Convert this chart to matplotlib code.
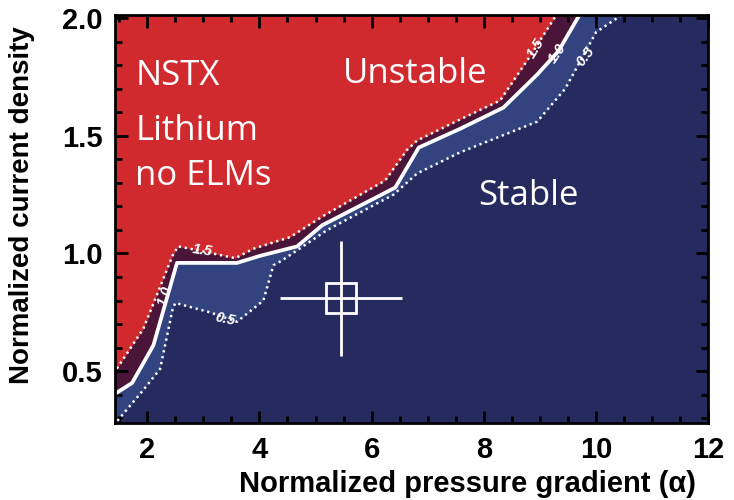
import numpy as np
import matplotlib
matplotlib.use('Agg')
import matplotlib.pyplot as plt
from matplotlib.ticker import MultipleLocator

# Stability boundaries (contours of growth rate) in the alpha - j plane
alpha_15 = [1.40, 1.93, 2.45, 2.55, 2.77, 3.57, 3.89, 4.55, 5.14, 6.24, 6.63, 6.81, 7.58, 8.29, 8.80, 9.31]
j_15 = [0.49, 0.68, 0.99, 1.03, 1.02, 0.98, 1.02, 1.07, 1.16, 1.31, 1.44, 1.48, 1.57, 1.65, 1.83, 2.02]

alpha_10 = [1.40, 1.73, 2.11, 2.53, 3.60, 4.01, 4.67, 5.12, 6.42, 6.84, 7.58, 8.35, 8.95, 9.33, 9.72]
j_10 = [0.40, 0.45, 0.61, 0.96, 0.96, 0.99, 1.03, 1.12, 1.28, 1.45, 1.53, 1.62, 1.76, 1.86, 2.02]

alpha_05 = [1.40, 1.93, 2.23, 2.45, 2.50, 3.12, 3.60, 4.07, 4.25, 4.40, 5.21, 6.39, 6.81, 7.58, 8.95, 9.45, 10.0, 10.5]
j_05 = [0.27, 0.42, 0.51, 0.76, 0.79, 0.75, 0.71, 0.80, 0.95, 0.97, 1.10, 1.25, 1.34, 1.43, 1.56, 1.70, 1.94, 2.02]

# Contour labels: (text, alpha, j, rotation)
contour_labels = [
    ('1.5', 2.98, 1.013, -8),
    ('1.0', 2.32, 0.818, 72),
    ('0.5', 3.39, 0.720, -12),
    ('1.5', 8.92, 1.873, 58),
    ('1.0', 9.31, 1.850, 55),
    ('0.5', 9.81, 1.835, 52),
]

# Experimental operating point with uncertainty
exp_alpha, exp_alpha_err = 5.45, 1.09
exp_j, exp_j_err = 0.81, 0.245

RED = '#d02a2f'
PURPLE = '#4a1538'
BLUE = '#32437f'
NAVY = '#252a5f'

label_font = ['Liberation Sans Narrow', 'Liberation Sans', 'DejaVu Sans']
text_font = ['Open Sans', 'DejaVu Sans']

fig = plt.figure(figsize=(7.34, 5.0), dpi=100)
ax = fig.add_axes([0.157, 0.154, 0.808, 0.816])
ax.set_facecolor(NAVY)

ytop = 2.2
ax.fill_between(alpha_05, j_05, ytop, color=BLUE, lw=0)
ax.fill_between(alpha_10, j_10, ytop, color=PURPLE, lw=0)
ax.fill_between(alpha_15, j_15, ytop, color=RED, lw=0)

dots = (0, (0.9, 1.5))
ax.plot(alpha_15, j_15, color='white', lw=1.8, ls=dots, solid_capstyle='butt')
ax.plot(alpha_10, j_10, color='white', lw=2.7)
ax.plot(alpha_05, j_05, color='white', lw=1.8, ls=dots, solid_capstyle='butt')

for txt, a, j, rot in contour_labels:
    ax.text(a, j, txt, color='white', fontsize=10.5, fontweight='bold', style='italic',
            rotation=rot, ha='center', va='center', family=['Liberation Sans', 'DejaVu Sans'])

ax.errorbar(exp_alpha, exp_j, xerr=exp_alpha_err, yerr=exp_j_err, fmt='s',
            mfc='none', mec='white', mew=2.0, ms=21, color='white', elinewidth=2.0,
            capsize=0)

# Region annotations
ax.text(1.79, 1.716, 'NSTX', color='white', fontsize=25, family=text_font, va='baseline')
ax.text(1.79, 1.483, 'Lithium', color='white', fontsize=25, family=text_font, va='baseline')
ax.text(1.79, 1.292, 'no ELMs', color='white', fontsize=25, family=text_font, va='baseline')
ax.text(5.49, 1.725, 'Unstable', color='white', fontsize=25, family=text_font, va='baseline')
ax.text(7.90, 1.208, 'Stable', color='white', fontsize=25, family=text_font, va='baseline')

ax.set_xlim(1.43, 12)
ax.set_ylim(0.28, 2.013)

ax.xaxis.set_major_locator(MultipleLocator(2))
ax.xaxis.set_minor_locator(MultipleLocator(0.5))
ax.yaxis.set_major_locator(MultipleLocator(0.5))
ax.yaxis.set_minor_locator(MultipleLocator(0.1))
ax.tick_params(which='both', direction='in', top=True, right=True, width=2, color='black')
ax.tick_params(which='major', length=9, pad=9)
ax.tick_params(which='minor', length=5)
for sp in ax.spines.values():
    sp.set_linewidth(2)

for lab in ax.get_xticklabels() + ax.get_yticklabels():
    lab.set_family(label_font)
    lab.set_fontweight('bold')
    lab.set_fontsize(21)

ax.set_xlabel('Normalized pressure gradient (\u03b1)', family=label_font, fontweight='bold', fontsize=21)
ax.set_ylabel('Normalized current density', family=label_font, fontweight='bold', fontsize=20)
ax.xaxis.set_label_coords(0.594, -0.115)
ax.yaxis.set_label_coords(-0.135, 0.534)

fig.savefig('out.png', dpi=100)
